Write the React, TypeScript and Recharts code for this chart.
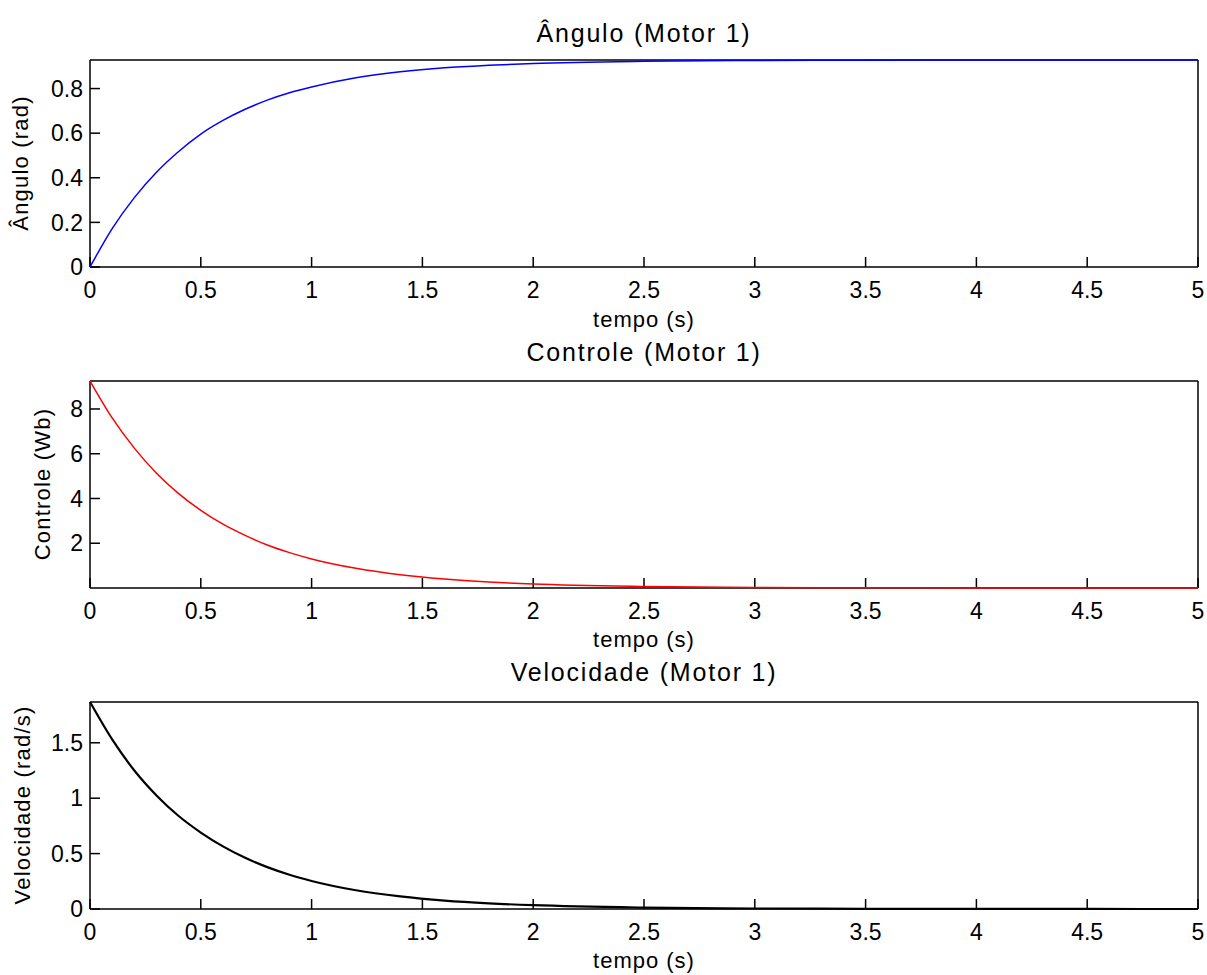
import React from "react";
import { LineChart, Line, XAxis, YAxis } from "recharts";

// sample times (s)
const tempo = [0, 0.1, 0.2, 0.3, 0.4, 0.5, 0.6, 0.7, 0.8, 0.9, 1.0, 1.2, 1.4, 1.6, 1.8, 2.0, 2.5, 3.0, 3.5, 4.0, 4.5, 5.0];

// values
const angulo = [0, 0.172, 0.311, 0.425, 0.518, 0.596, 0.657, 0.707, 0.748, 0.781, 0.807, 0.848, 0.875, 0.893, 0.904, 0.912, 0.922, 0.926, 0.927, 0.928, 0.928, 0.928];
const controle = [9.25, 7.6, 6.25, 5.13, 4.22, 3.47, 2.85, 2.35, 1.92, 1.58, 1.3, 0.88, 0.59, 0.4, 0.27, 0.18, 0.07, 0.026, 0.01, 0.004, 0.002, 0.0005];
const velocidade = [1.868, 1.53, 1.25, 1.025, 0.839, 0.69, 0.565, 0.462, 0.378, 0.309, 0.253, 0.169, 0.114, 0.076, 0.051, 0.034, 0.0125, 0.0046, 0.0017, 0.0006, 0.0002, 0.0001];

const xTicks = [0, 0.5, 1, 1.5, 2, 2.5, 3, 3.5, 4, 4.5, 5];
const anguloTicks = [0, 0.2, 0.4, 0.6, 0.8];
const controleTicks = [2, 4, 6, 8];
const velocidadeTicks = [0, 0.5, 1, 1.5];

const FONT = "'Liberation Sans', Arial, Helvetica, sans-serif";
const W = 1207;
const THIN = 0.01; // axes need a non-zero size to be drawn

const rows = tempo.map((t, i) => ({
  t,
  angulo: angulo[i],
  controle: controle[i],
  velocidade: velocidade[i],
}));

const tickStyle = { fill: "#000", fontSize: 23, fontFamily: FONT };

function Panel({
  top,
  height,
  dataKey,
  color,
  width,
  domain,
  yTicks,
}: {
  top: number;
  height: number;
  dataKey: string;
  color: string;
  width: number;
  domain: [number, number];
  yTicks: number[];
}) {
  return (
    <div style={{ position: "absolute", left: 0, top }}>
      <LineChart
        width={W}
        height={height}
        data={rows}
        margin={{ top: 60, right: 9, bottom: height - 267, left: 90 }}
      >
        <XAxis
          type="number"
          dataKey="t"
          domain={[0, 5]}
          ticks={xTicks}
          height={THIN}
          stroke="#000"
          strokeWidth={1.5}
          tickSize={-10}
          tickMargin={25}
          tick={tickStyle}
        />
        <XAxis
          xAxisId="top"
          orientation="top"
          type="number"
          dataKey="t"
          domain={[0, 5]}
          ticks={xTicks}
          height={THIN}
          stroke="#000"
          strokeWidth={1.5}
          tickSize={-10}
          tick={false}
        />
        <YAxis
          type="number"
          domain={domain}
          ticks={yTicks}
          width={THIN}
          stroke="#000"
          strokeWidth={1.5}
          tickSize={-10}
          tickMargin={17}
          tick={tickStyle}
        />
        <YAxis
          yAxisId="right"
          orientation="right"
          type="number"
          domain={domain}
          ticks={yTicks}
          width={THIN}
          stroke="#000"
          strokeWidth={1.5}
          tickSize={-10}
          tick={false}
        />
        <Line
          type="monotone"
          dataKey={dataKey}
          stroke={color}
          strokeWidth={width}
          dot={false}
          zIndex={2000}
          isAnimationActive={false}
        />
      </LineChart>
    </div>
  );
}

const titleStyle: React.CSSProperties = {
  position: "absolute",
  left: 644,
  transform: "translate(-50%, -50%)",
  fontFamily: FONT,
  fontSize: 25,
  letterSpacing: 1.8,
  whiteSpace: "nowrap",
  lineHeight: 1,
  color: "#000",
};

const xLabelStyle: React.CSSProperties = {
  ...titleStyle,
  fontSize: 22,
  letterSpacing: 1,
};

const yLabelStyle: React.CSSProperties = {
  position: "absolute",
  transform: "translate(-50%, -50%) rotate(-90deg)",
  fontFamily: FONT,
  fontSize: 22,
  letterSpacing: 1.2,
  whiteSpace: "nowrap",
  lineHeight: 1,
  color: "#000",
};

export default function App() {
  return (
    <div style={{ position: "absolute", left: 0, top: 0, width: W, height: 975, background: "#fff" }}>
      <Panel top={0} height={321} dataKey="angulo" color="#0000ff" width={1.5} domain={[0, 0.928]} yTicks={anguloTicks} />
      <Panel top={321} height={321} dataKey="controle" color="#ff0000" width={1.5} domain={[0, 9.25]} yTicks={controleTicks} />
      <Panel top={642} height={333} dataKey="velocidade" color="#000000" width={2.2} domain={[0, 1.868]} yTicks={velocidadeTicks} />

      <div style={{ ...titleStyle, top: 33 }}>Ângulo (Motor 1)</div>
      <div style={{ ...titleStyle, top: 352 }}>Controle (Motor 1)</div>
      <div style={{ ...titleStyle, top: 672 }}>Velocidade (Motor 1)</div>

      <div style={{ ...xLabelStyle, top: 320 }}>tempo (s)</div>
      <div style={{ ...xLabelStyle, top: 640 }}>tempo (s)</div>
      <div style={{ ...xLabelStyle, top: 961 }}>tempo (s)</div>

      <div style={{ ...yLabelStyle, left: 21, top: 163 }}>Ângulo (rad)</div>
      <div style={{ ...yLabelStyle, left: 43, top: 484 }}>Controle (Wb)</div>
      <div style={{ ...yLabelStyle, left: 23, top: 805 }}>Velocidade (rad/s)</div>
    </div>
  );
}
